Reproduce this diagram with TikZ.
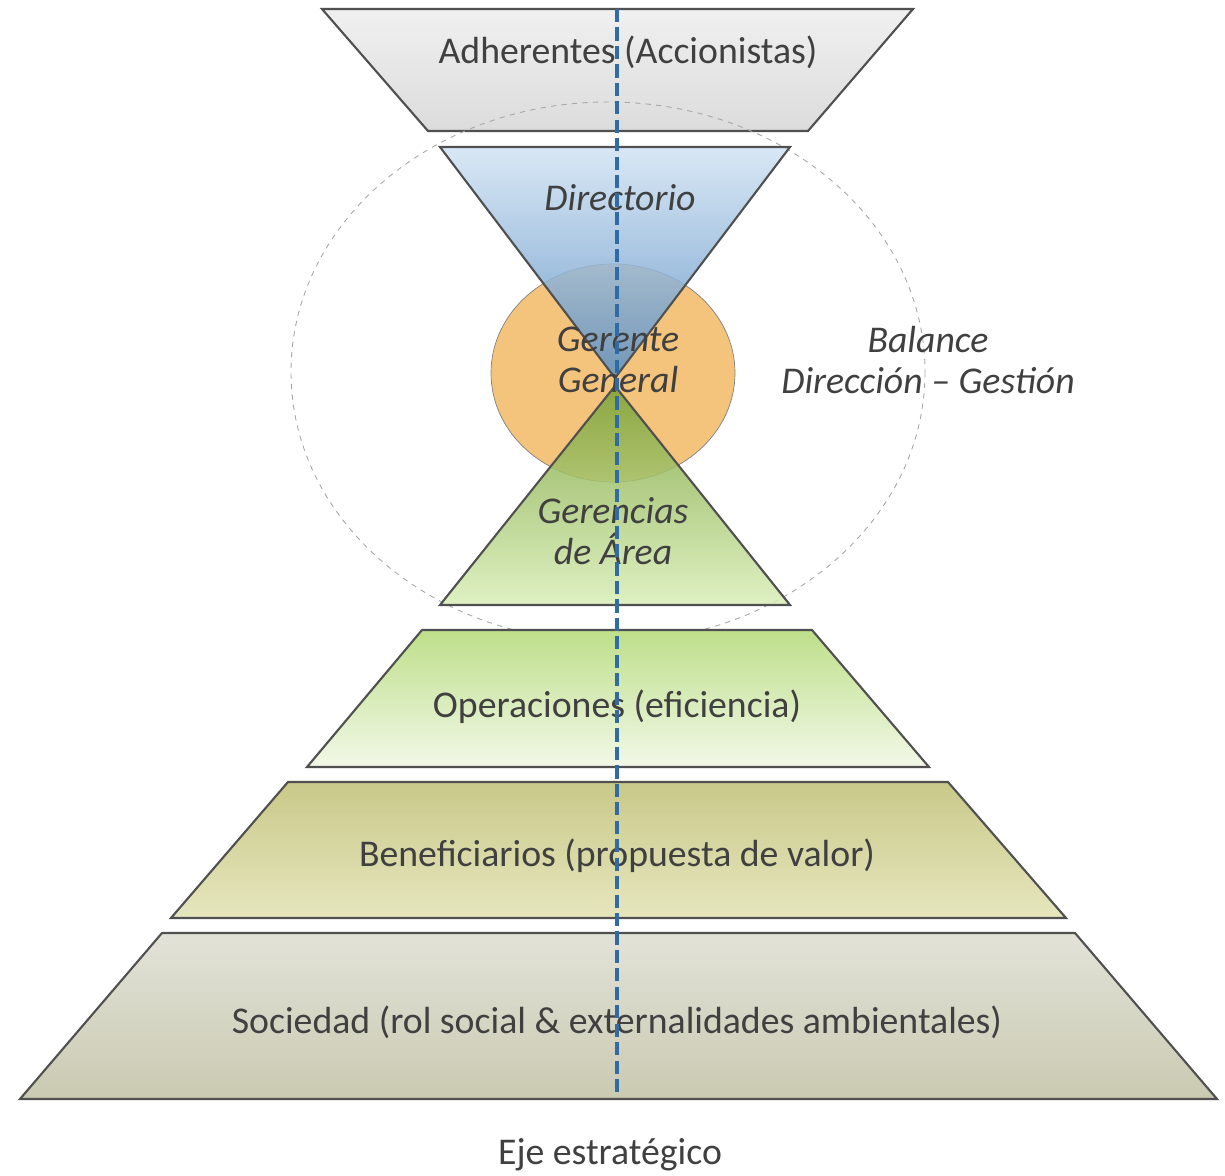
\documentclass[tikz,border=0pt]{standalone}
\usepackage{fontspec}
\setmainfont{Carlito}
\usetikzlibrary{positioning}
\definecolor{txtgrey}{HTML}{404040}
\definecolor{axisblue}{HTML}{2F6CA6}
\definecolor{edgegrey}{HTML}{505050}
\definecolor{gerorange}{HTML}{F5C47C}
\definecolor{adhtop}{HTML}{F0F0F0}
\definecolor{adhbot}{HTML}{DCDCDC}
\definecolor{dirtop}{HTML}{D2E3F3}
\definecolor{dirbot}{HTML}{5A8FC4}
\definecolor{gcitop}{HTML}{78A235}
\definecolor{gcibot}{HTML}{D9EEB8}
\definecolor{opetop}{HTML}{BEDF8A}
\definecolor{opebot}{HTML}{F2F8E8}
\definecolor{bentop}{HTML}{C9C98A}
\definecolor{benbot}{HTML}{E6E6BE}
\definecolor{soctop}{HTML}{E2E2D8}
\definecolor{socbot}{HTML}{CACAB2}

\begin{document}
\begin{tikzpicture}[x=0.02cm, y=-0.02cm,
	level/.style={draw=edgegrey, line width=1.2pt},
	lbl/.style={text=txtgrey, font=\fontsize{21.5}{23}\selectfont, align=center, inner sep=0pt},
	ital/.style={lbl, font=\fontsize{21.5}{23}\selectfont\itshape}]
	\useasboundingbox (0,0) rectangle (1225,1176);
	\draw[level, top color=adhtop, bottom color=adhbot] (322,9) -- (913,9) -- (808,131) -- (428,131) -- cycle;
	\draw[gray!70, dashed, line width=0.5pt] (608,372) ellipse [x radius=317, y radius=270];
	\draw[fill=gerorange, draw=gray] (613,373) ellipse [x radius=122, y radius=109];
	\draw[level, fill opacity=0.85, top color=dirtop, bottom color=dirbot] (440,147) -- (790,147) -- (615,378) -- cycle;
	\draw[level, fill opacity=0.85, top color=gcitop, bottom color=gcibot] (615,386) -- (790,605) -- (440,605) -- cycle;
	\draw[level, top color=opetop, bottom color=opebot] (422,630) -- (812,630) -- (929,767) -- (307,767) -- cycle;
	\draw[level, top color=bentop, bottom color=benbot] (288,782) -- (948,782) -- (1066,918) -- (171,918) -- cycle;
	\draw[level, top color=soctop, bottom color=socbot] (162,933) -- (1075,933) -- (1217,1099) -- (20,1099) -- cycle;
	\node (adh) at (628,52) [lbl] {Adherentes (Accionistas)};
	\node (dir) at (620,198) [ital] {Directorio};
	\node (ger) at (618,360) [ital] {Gerente\\General};
	\node (gcias) at (613,531) [ital] {Gerencias\\de Área};
	\node (bal) at (928,360) [ital] {Balance\\Dirección -- Gestión};
	\node (ope) at (617,707) [lbl] {Operaciones (eficiencia)};
	\node (ben) at (617,856) [lbl] {Beneficiarios (propuesta de valor)};
	\node (soc) at (617,1022) [lbl] {Sociedad (rol social \& externalidades ambientales)};
	\node (eje) at (610,1155) [lbl] {Eje estratégico};
	\coordinate (axtop) at (617,9);
	\coordinate (axbot) at (617,1095);
	\draw[axisblue, line width=2pt, dash pattern=on 7.5pt off 3pt] (axtop) -- (axbot);
\end{tikzpicture}
\end{document}
